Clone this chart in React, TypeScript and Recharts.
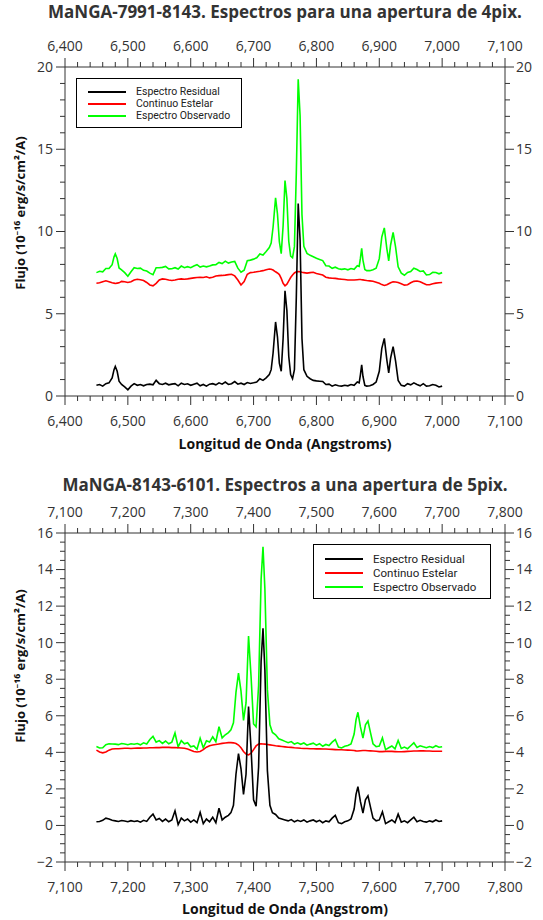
import React from 'react';
import { LineChart, Line, XAxis, YAxis, Legend } from 'recharts';

const FONT = '"Open Sans", "Noto Sans", sans-serif';
const LEGEND_FONT = 'Roboto, "Open Sans", sans-serif';
const AXIS_COLOR = '#333333';
const TEXT_COLOR = '#333333';

/* ── Panel 1: MaNGA-7991-8143, 4pix ───────────────────── */
const wave1 = [
  6450, 6455, 6460, 6465, 6470, 6475, 6478, 6480, 6483, 6486,
  6490, 6495, 6500, 6505, 6510, 6515, 6520, 6525, 6530, 6535,
  6540, 6545, 6550, 6555, 6560, 6565, 6570, 6575, 6580, 6585,
  6590, 6595, 6600, 6605, 6610, 6615, 6620, 6625, 6630, 6635,
  6640, 6645, 6650, 6655, 6660, 6665, 6670, 6675, 6680, 6685,
  6690, 6695, 6700, 6705, 6710, 6715, 6720, 6725, 6728, 6731,
  6735, 6738, 6741, 6744, 6747, 6750, 6753, 6756, 6759, 6762,
  6765, 6768, 6771, 6774, 6777, 6780, 6785, 6790, 6795, 6800,
  6805, 6810, 6815, 6820, 6825, 6830, 6835, 6840, 6845, 6850,
  6855, 6860, 6865, 6868, 6870, 6872, 6874, 6877, 6880, 6885,
  6890, 6895, 6900, 6904, 6908, 6912, 6915, 6918, 6922, 6926,
  6930, 6935, 6940, 6945, 6950, 6955, 6960, 6965, 6970, 6975,
  6980, 6985, 6990, 6995, 7000,
];
const residual1 = [
  0.65, 0.70, 0.60, 0.75, 0.80, 1.10, 1.60, 1.80, 1.50, 0.90,
  0.70, 0.55, 0.38, 0.60, 0.75, 0.65, 0.70, 0.62, 0.70, 0.72,
  0.68, 0.95, 0.75, 0.70, 0.78, 0.68, 0.72, 0.75, 0.62, 0.78,
  0.70, 0.74, 0.65, 0.72, 0.78, 0.62, 0.70, 0.60, 0.72, 0.75,
  0.68, 0.80, 0.72, 0.85, 0.70, 0.75, 0.88, 0.72, 0.78, 0.70,
  0.82, 0.76, 0.80, 0.85, 1.05, 0.95, 1.10, 1.30, 1.60, 2.60,
  4.50, 3.60, 2.00, 1.50, 3.50, 6.40, 5.20, 2.40, 1.30, 1.05,
  1.60, 6.00, 11.70, 9.50, 3.50, 1.60, 1.20, 1.05, 0.95, 0.92,
  0.90, 0.88, 0.70, 0.72, 0.60, 0.68, 0.62, 0.60, 0.65, 0.62,
  0.70, 0.65, 0.85, 0.80, 1.30, 1.90, 1.20, 0.65, 0.60, 0.62,
  0.70, 0.85, 1.50, 2.90, 3.50, 2.20, 1.40, 2.30, 3.00, 2.10,
  0.95, 0.65, 0.60, 0.75, 0.68, 0.80, 0.70, 0.62, 0.75, 0.60,
  0.62, 0.70, 0.65, 0.55, 0.60,
];
const continuum1 = [
  6.85, 6.88, 6.95, 7.00, 6.95, 6.88, 6.86, 6.84, 6.86, 6.88,
  6.97, 6.95, 6.90, 6.95, 7.05, 7.10, 7.07, 7.02, 6.90, 6.75,
  6.70, 6.85, 7.05, 7.12, 7.10, 7.05, 7.02, 7.05, 7.10, 7.12,
  7.10, 7.12, 7.15, 7.18, 7.20, 7.22, 7.20, 7.25, 7.18, 7.22,
  7.30, 7.32, 7.33, 7.35, 7.38, 7.40, 7.30, 7.05, 6.75, 6.95,
  7.40, 7.50, 7.52, 7.55, 7.58, 7.62, 7.68, 7.72, 7.70, 7.66,
  7.55, 7.48, 7.38, 7.15, 6.85, 6.70, 6.80, 7.00, 7.20, 7.35,
  7.48, 7.55, 7.56, 7.55, 7.52, 7.50, 7.47, 7.50, 7.52, 7.45,
  7.40, 7.35, 7.22, 7.18, 7.16, 7.15, 7.12, 7.10, 7.08, 7.05,
  7.05, 7.05, 7.07, 7.08, 7.08, 7.07, 7.06, 7.04, 7.02, 7.00,
  6.98, 6.92, 6.85, 6.77, 6.72, 6.76, 6.82, 6.88, 6.94, 6.93,
  6.90, 6.82, 6.74, 6.76, 6.88, 6.97, 6.99, 6.95, 6.85, 6.76,
  6.76, 6.82, 6.86, 6.88, 6.90,
];
const observed1 = [
  7.50, 7.58, 7.55, 7.75, 7.75, 7.98, 8.46, 8.64, 8.36, 7.78,
  7.67, 7.50, 7.28, 7.55, 7.80, 7.75, 7.77, 7.64, 7.60, 7.47,
  7.38, 7.80, 7.80, 7.82, 7.88, 7.73, 7.74, 7.80, 7.72, 7.90,
  7.80, 7.86, 7.80, 7.90, 7.98, 7.84, 7.90, 7.85, 7.90, 7.97,
  7.98, 8.12, 8.05, 8.20, 8.08, 8.15, 8.18, 7.77, 7.53, 7.65,
  8.22, 8.26, 8.32, 8.40, 8.63, 8.57, 8.78, 9.02, 9.30, 10.26,
  12.05, 11.08, 9.38, 8.65, 10.35, 13.10, 12.00, 9.40, 8.50, 8.40,
  9.08, 13.55, 19.26, 17.05, 11.02, 9.10, 8.67, 8.55, 8.47, 8.37,
  8.30, 8.23, 7.92, 7.90, 7.76, 7.83, 7.74, 7.70, 7.73, 7.67,
  7.75, 7.70, 7.92, 7.88, 8.38, 8.97, 8.26, 7.69, 7.62, 7.62,
  7.68, 7.77, 8.35, 9.67, 10.22, 8.96, 8.22, 9.18, 9.94, 9.03,
  7.85, 7.47, 7.34, 7.51, 7.56, 7.77, 7.69, 7.57, 7.60, 7.36,
  7.38, 7.52, 7.51, 7.43, 7.50,
];
const xTicks1 = [
  6400, 6420, 6440, 6460, 6480, 6500, 6520, 6540, 6560, 6580,
  6600, 6620, 6640, 6660, 6680, 6700, 6720, 6740, 6760, 6780,
  6800, 6820, 6840, 6860, 6880, 6900, 6920, 6940, 6960, 6980,
  7000, 7020, 7040, 7060, 7080, 7100,
];
const yTicks1 = [0, 1, 2, 3, 4, 5, 6, 7, 8, 9, 10, 11, 12, 13, 14, 15, 16, 17, 18, 19, 20];

/* ── Panel 2: MaNGA-8143-6101, 5pix ───────────────────── */
const wave2 = [
  7150, 7155, 7160, 7165, 7170, 7175, 7180, 7185, 7190, 7195,
  7200, 7205, 7210, 7215, 7220, 7225, 7230, 7235, 7240, 7245,
  7250, 7255, 7260, 7265, 7270, 7275, 7280, 7285, 7290, 7295,
  7300, 7305, 7310, 7315, 7320, 7325, 7330, 7335, 7340, 7345,
  7350, 7355, 7360, 7364, 7368, 7372, 7376, 7380, 7384, 7388,
  7392, 7396, 7400, 7404, 7408, 7412, 7415, 7418, 7422, 7426,
  7430, 7435, 7440, 7445, 7450, 7455, 7460, 7465, 7470, 7475,
  7480, 7485, 7490, 7495, 7500, 7505, 7510, 7515, 7520, 7525,
  7530, 7535, 7540, 7545, 7550, 7555, 7560, 7563, 7566, 7570,
  7574, 7578, 7582, 7586, 7590, 7595, 7600, 7605, 7610, 7615,
  7620, 7625, 7630, 7635, 7640, 7645, 7650, 7655, 7660, 7665,
  7670, 7675, 7680, 7685, 7690, 7695, 7700,
];
const residual2 = [
  0.20, 0.22, 0.28, 0.40, 0.35, 0.28, 0.25, 0.22, 0.27, 0.24,
  0.20, 0.26, 0.22, 0.25, 0.18, 0.28, 0.22, 0.45, 0.62, 0.30,
  0.38, 0.22, 0.35, 0.20, 0.30, 0.80, 0.05, 0.40, 0.25, 0.35,
  0.18, 0.30, 0.15, 0.72, 0.10, 0.35, 0.20, 0.45, 0.15, 0.94,
  0.30, 0.45, 0.55, 0.70, 1.10, 2.80, 3.93, 3.10, 1.70, 2.80,
  6.50, 4.20, 1.40, 1.05, 3.20, 9.00, 10.79, 8.50, 3.00, 1.10,
  0.70, 0.60, 0.40, 0.35, 0.30, 0.25, 0.32, 0.20, 0.28, 0.22,
  0.30, 0.18, 0.25, 0.30, 0.20, 0.28, 0.15, 0.25, 0.20, 0.40,
  0.55, 0.15, 0.10, 0.20, 0.25, 0.35, 0.90, 1.70, 2.12, 1.30,
  0.68, 1.40, 1.62, 1.00, 0.40, 0.25, 0.30, 0.75, 0.10, 0.20,
  0.30, 0.15, 0.62, 0.18, 0.25, 0.15, 0.30, 0.45, 0.20, 0.28,
  0.22, 0.18, 0.25, 0.20, 0.30, 0.22, 0.25,
];
const continuum2 = [
  4.12, 4.02, 3.97, 4.02, 4.12, 4.18, 4.20, 4.20, 4.21, 4.22,
  4.22, 4.21, 4.22, 4.23, 4.23, 4.24, 4.24, 4.25, 4.25, 4.26,
  4.26, 4.27, 4.27, 4.27, 4.26, 4.26, 4.25, 4.24, 4.22, 4.18,
  4.12, 4.05, 4.02, 4.05, 4.15, 4.28, 4.36, 4.40, 4.43, 4.46,
  4.49, 4.51, 4.53, 4.53, 4.52, 4.48, 4.40, 4.25, 4.05, 3.90,
  3.86, 3.95, 4.15, 4.35, 4.45, 4.47, 4.46, 4.45, 4.43, 4.41,
  4.39, 4.36, 4.34, 4.32, 4.30, 4.28, 4.27, 4.25, 4.24, 4.22,
  4.21, 4.21, 4.20, 4.20, 4.19, 4.19, 4.18, 4.18, 4.17, 4.16,
  4.15, 4.14, 4.14, 4.13, 4.12, 4.11, 4.10, 4.08, 4.07, 4.09,
  4.10, 4.10, 4.09, 4.08, 4.07, 4.06, 4.04, 4.04, 4.05, 4.05,
  4.05, 4.04, 4.03, 4.03, 4.04, 4.05, 4.06, 4.07, 4.07, 4.08,
  4.08, 4.07, 4.07, 4.06, 4.06, 4.06, 4.06,
];
const observed2 = [
  4.32, 4.24, 4.25, 4.42, 4.47, 4.46, 4.45, 4.42, 4.48, 4.46,
  4.42, 4.47, 4.44, 4.48, 4.41, 4.52, 4.46, 4.70, 4.87, 4.56,
  4.64, 4.49, 4.62, 4.47, 4.56, 5.06, 4.30, 4.64, 4.47, 4.53,
  4.30, 4.35, 4.17, 4.77, 4.25, 4.63, 4.56, 4.85, 4.58, 5.40,
  4.79, 4.96, 5.08, 5.23, 5.62, 7.28, 8.33, 7.35, 5.75, 6.70,
  10.36, 8.15, 5.55, 5.40, 7.65, 13.47, 15.25, 12.95, 7.43, 5.51,
  5.09, 4.96, 4.74, 4.67, 4.60, 4.53, 4.59, 4.45, 4.52, 4.44,
  4.51, 4.39, 4.45, 4.50, 4.39, 4.47, 4.33, 4.43, 4.37, 4.56,
  4.70, 4.29, 4.24, 4.33, 4.37, 4.46, 5.00, 5.78, 6.19, 5.39,
  4.78, 5.50, 5.71, 5.08, 4.47, 4.31, 4.34, 4.79, 4.15, 4.25,
  4.35, 4.19, 4.65, 4.21, 4.29, 4.20, 4.36, 4.52, 4.27, 4.36,
  4.30, 4.25, 4.32, 4.26, 4.36, 4.28, 4.31,
];
const xTicks2 = [
  7100, 7120, 7140, 7160, 7180, 7200, 7220, 7240, 7260, 7280,
  7300, 7320, 7340, 7360, 7380, 7400, 7420, 7440, 7460, 7480,
  7500, 7520, 7540, 7560, 7580, 7600, 7620, 7640, 7660, 7680,
  7700, 7720, 7740, 7760, 7780, 7800,
];
const yTicks2 = [
  -2, -1.5, -1, -0.5, 0, 0.5, 1, 1.5, 2, 2.5, 3, 3.5, 4, 4.5, 5, 5.5, 6, 6.5, 7,
  7.5, 8, 8.5, 9, 9.5, 10, 10.5, 11, 11.5, 12, 12.5, 13, 13.5, 14, 14.5, 15, 15.5, 16,
];

const SERIES = [
  { key: 'obs', label: 'Espectro Observado', color: '#00ff00' },
  { key: 'cont', label: 'Continuo Estelar', color: '#ff0000' },
  { key: 'res', label: 'Espectro Residual', color: '#000000' },
];
const LEGEND_ORDER = ['res', 'cont', 'obs'];

/* ── Tick renderers (major ticks long + label, minor ticks short) ── */
const fmtX = (v: number) => v.toLocaleString('en-US');
const fmtY = (v: number) => (v < 0 ? '\u2212' + Math.abs(v) : String(v));
const isMult = (v: number, step: number) => Math.abs(v / step - Math.round(v / step)) < 1e-6;

function xTick(side: 'top' | 'bottom', major: number) {
  return (props: any) => {
    const { x, y, payload } = props;
    const v = payload.value as number;
    const big = isMult(v, major);
    const dir = side === 'top' ? -1 : 1;
    return (
      <g>
        <line x1={x} y1={y} x2={x} y2={y + dir * (big ? 9 : 5)} stroke={AXIS_COLOR} strokeWidth={1} />
        {big && (
          <text x={x} y={side === 'top' ? y - 16 : y + 30} textAnchor="middle" fontSize={14}
            fill={TEXT_COLOR} fontFamily={FONT}>
            {fmtX(v)}
          </text>
        )}
      </g>
    );
  };
}

function yTick(side: 'left' | 'right', major: number) {
  return (props: any) => {
    const { x, y, payload } = props;
    const v = payload.value as number;
    const big = isMult(v, major);
    const dir = side === 'left' ? -1 : 1;
    return (
      <g>
        <line x1={x} y1={y} x2={x + dir * (big ? 9 : 5)} y2={y} stroke={AXIS_COLOR} strokeWidth={1} />
        {big && (
          <text x={side === 'left' ? x - 12 : x + 11} y={y} dy="0.35em"
            textAnchor={side === 'left' ? 'end' : 'start'} fontSize={14} fill={TEXT_COLOR} fontFamily={FONT}>
            {fmtY(v)}
          </text>
        )}
      </g>
    );
  };
}

/* ── Legend box ─────────────────────────────────────── */
function LegendBox({ fontSize, rowH, padTop, width, height }: any) {
  return (
    <div style={{
      width, height, boxSizing: 'border-box', border: '1px solid #000', background: '#fff',
      paddingTop: padTop, fontFamily: LEGEND_FONT, fontSize, color: '#222',
    }}>
      {LEGEND_ORDER.map(k => {
        const s = SERIES.find(d => d.key === k)!;
        return (
          <div key={k} style={{ display: 'flex', alignItems: 'center', height: rowH }}>
            <span style={{ display: 'block', width: 38, height: 2, background: s.color, marginLeft: 11, marginRight: 10 }} />
            <span style={{ display: 'block', height: rowH, lineHeight: `${rowH}px`, whiteSpace: 'nowrap' }}>
              {s.label}
            </span>
          </div>
        );
      })}
    </div>
  );
}

/* ── One spectrum panel ─────────────────────────────── */
interface PanelProps {
  wave: number[];
  res: number[];
  cont: number[];
  obs: number[];
  xTicks: number[];
  yTicks: number[];
  xDomain: [number, number];
  yDomain: [number, number];
  yMajor: number;
  margin: { top: number; right: number; bottom: number; left: number };
  legend: { left: number; top: number; width: number; height: number; fontSize: number; rowH: number; padTop: number };
}

function SpectrumPanel(p: PanelProps) {
  const data = p.wave.map((w, i) => ({ w, res: p.res[i], cont: p.cont[i], obs: p.obs[i] }));
  return (
    <LineChart width={543} height={460} data={data} margin={p.margin}>
      <XAxis xAxisId="b" dataKey="w" type="number" domain={p.xDomain} ticks={p.xTicks} interval={0}
        orientation="bottom" height={30} tickSize={0} tickMargin={0} tickLine={false}
        axisLine={{ stroke: AXIS_COLOR }} tick={xTick('bottom', 100)} allowDataOverflow />
      <XAxis xAxisId="t" dataKey="w" type="number" domain={p.xDomain} ticks={p.xTicks} interval={0}
        orientation="top" height={30} tickSize={0} tickMargin={0} tickLine={false}
        axisLine={{ stroke: AXIS_COLOR }} tick={xTick('top', 100)} allowDataOverflow />
      <YAxis yAxisId="l" type="number" domain={p.yDomain} ticks={p.yTicks} interval={0}
        orientation="left" width={30} tickSize={0} tickMargin={0} tickLine={false}
        axisLine={{ stroke: AXIS_COLOR }} tick={yTick('left', p.yMajor)} allowDataOverflow />
      <YAxis yAxisId="r" type="number" domain={p.yDomain} ticks={p.yTicks} interval={0}
        orientation="right" width={30} tickSize={0} tickMargin={0} tickLine={false}
        axisLine={{ stroke: AXIS_COLOR }} tick={yTick('right', p.yMajor)} allowDataOverflow />
      <Legend layout="vertical" align="center" verticalAlign="middle"
        wrapperStyle={{ left: p.legend.left, top: p.legend.top, width: p.legend.width, height: p.legend.height }}
        content={() => <LegendBox {...p.legend} />} />
      {SERIES.map(s => (
        <Line key={s.key} xAxisId="b" yAxisId="l" dataKey={s.key} name={s.label} type="linear"
          stroke={s.color} strokeWidth={1.6} dot={false} activeDot={false} isAnimationActive={false} />
      ))}
    </LineChart>
  );
}

const titleStyle: React.CSSProperties = {
  position: 'absolute', left: 0, width: 570, textAlign: 'center', fontFamily: FONT,
  fontWeight: 700, fontSize: 17, color: '#333', whiteSpace: 'nowrap',
};
const xTitleStyle: React.CSSProperties = {
  position: 'absolute', left: 65, width: 440, textAlign: 'center', fontFamily: FONT,
  fontWeight: 700, fontSize: 14, color: '#111', whiteSpace: 'nowrap',
};
const yTitleStyle: React.CSSProperties = {
  position: 'absolute', left: 20, fontFamily: FONT, fontWeight: 700, fontSize: 13, color: '#111',
  whiteSpace: 'nowrap', transform: 'translate(-50%, -50%) rotate(-90deg)',
};
const Y_TITLE = 'Flujo (10\u207B\u00B9\u2076 erg/s/cm\u00B2/A)';

export default function App() {
  return (
    <div style={{ position: 'absolute', left: 0, top: 0, width: 543, height: 920, background: '#fff' }}>
      <div style={{ position: 'absolute', left: 0, top: 0, width: 543, height: 460 }}>
        <SpectrumPanel wave={wave1} res={residual1} cont={continuum1} obs={observed1}
          xTicks={xTicks1} yTicks={yTicks1} xDomain={[6400, 7100]} yDomain={[0, 20]} yMajor={5}
          margin={{ top: 37, right: 8, bottom: 34, left: 35 }}
          legend={{ left: 76, top: 78, width: 166, height: 50, fontSize: 10.5, rowH: 12.4, padTop: 6.5 }} />
        <div style={{ ...titleStyle, top: 0 }}>MaNGA-7991-8143. Espectros para una apertura de 4pix.</div>
        <div style={{ ...xTitleStyle, top: 434 }}>Longitud de Onda (Angstroms)</div>
        <div style={{ ...yTitleStyle, top: 213 }}>{Y_TITLE}</div>
      </div>
      <div style={{ position: 'absolute', left: 0, top: 460, width: 543, height: 460 }}>
        <SpectrumPanel wave={wave2} res={residual2} cont={continuum2} obs={observed2}
          xTicks={xTicks2} yTicks={yTicks2} xDomain={[7100, 7800]} yDomain={[-2, 16]} yMajor={2}
          margin={{ top: 43, right: 8, bottom: 28, left: 35 }}
          legend={{ left: 313, top: 84, width: 178, height: 55, fontSize: 11.5, rowH: 14, padTop: 7 }} />
        <div style={{ ...titleStyle, top: 13 }}>MaNGA-8143-6101. Espectros a una apertura de 5pix.</div>
        <div style={{ ...xTitleStyle, top: 439 }}>Longitud de Onda (Angstrom)</div>
        <div style={{ ...yTitleStyle, top: 206 }}>{Y_TITLE}</div>
      </div>
    </div>
  );
}
